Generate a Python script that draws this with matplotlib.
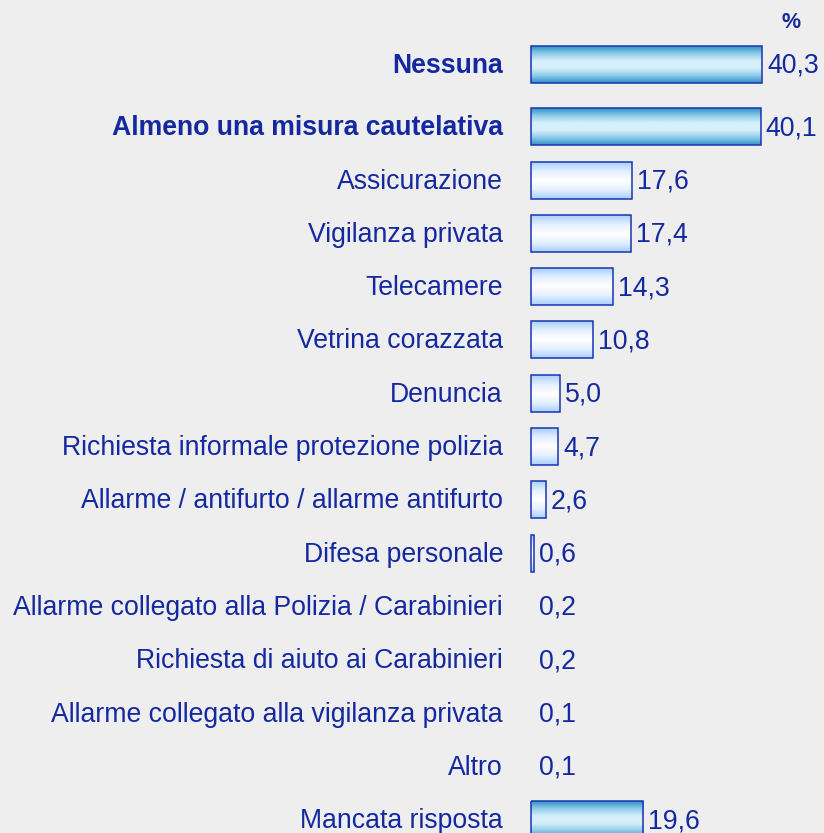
import numpy as np
import matplotlib as mpl
mpl.use('Agg')
import matplotlib.pyplot as plt
from matplotlib.colors import LinearSegmentedColormap
from matplotlib.patches import Rectangle

labels = ['Nessuna', 'Almeno una misura cautelativa', 'Assicurazione', 'Vigilanza privata',
          'Telecamere', 'Vetrina corazzata', 'Denuncia',
          'Richiesta informale protezione polizia',
          'Allarme / antifurto / allarme antifurto', 'Difesa personale',
          'Allarme collegato alla Polizia / Carabinieri',
          'Richiesta di aiuto ai Carabinieri',
          'Allarme collegato alla vigilanza privata', 'Altro', 'Mancata risposta']
values = [40.3, 40.1, 17.6, 17.4, 14.3, 10.8, 5.0, 4.7, 2.6, 0.6, 0.2, 0.2, 0.1, 0.1, 19.6]
value_text = ['40,3', '40,1', '17,6', '17,4', '14,3', '10,8', '5,0', '4,7', '2,6', '0,6',
              '0,2', '0,2', '0,1', '0,1', '19,6']
highlight = [True, True] + [False] * 12 + [True]
bold = [True, True] + [False] * 13

TEXT = '#1428a0'
EDGE = '#1a34b0'
BG = '#eeeeee'

W, H = 824, 833
fig = plt.figure(figsize=(W / 100, H / 100), dpi=100, facecolor=BG)
ax = fig.add_axes([0, 0, 1, 1])
ax.set_facecolor(BG)

# pixel layout: bars start at x=531, 5.73 px per unit
x0 = 531
scale = 5.73
ax.set_axis_off()

n = len(labels)
ys = 180 + (np.arange(n) - 2) * 53.3
ys[0] -= 9
bh = 37

cm_dark = LinearSegmentedColormap.from_list('d', ['#2e93c9', '#8fcbe8', '#d6effb', '#d6effb', '#8fcbe8', '#2e93c9'])
cm_light = LinearSegmentedColormap.from_list('l', ['#a9d0ff', '#e4f0ff', '#ffffff', '#e4f0ff', '#a9d0ff'])
grad = np.linspace(0, 1, 100).reshape(-1, 1)

plt.rcParams['font.family'] = ['Liberation Sans', 'DejaVu Sans']
fs = 19.2

for i in range(n):
    v = values[i]
    y = ys[i]
    if v >= 0.5:
        cmap = cm_dark if highlight[i] else cm_light
        ax.imshow(grad, cmap=cmap, aspect='auto', interpolation='bilinear',
                  extent=[0, v, y + bh / 2, y - bh / 2], zorder=1)
        ax.add_patch(Rectangle((0, y - bh / 2), v, bh, fill=False,
                               edgecolor=EDGE, linewidth=1.1, zorder=2))
    ax.annotate(labels[i], (0, y + 1.5), xytext=(-28 * 0.72, 0), textcoords='offset points',
                ha='right', va='center', fontsize=fs, color=TEXT,
                fontweight='bold' if bold[i] else 'normal')
    ax.annotate(value_text[i], (max(v, 0.6), y + 1.5), xytext=(5 * 0.72, 0),
                textcoords='offset points', ha='left', va='center',
                fontsize=fs, color=TEXT)

ax.text((791 - x0) / scale, 22, '%', ha='center', va='center', fontsize=15.5,
        fontweight='bold', color=TEXT)

ax.set_xlim(-x0 / scale, (W - x0) / scale)
ax.set_ylim(H, 0)

fig.savefig('out.png', dpi=100, facecolor=BG)
